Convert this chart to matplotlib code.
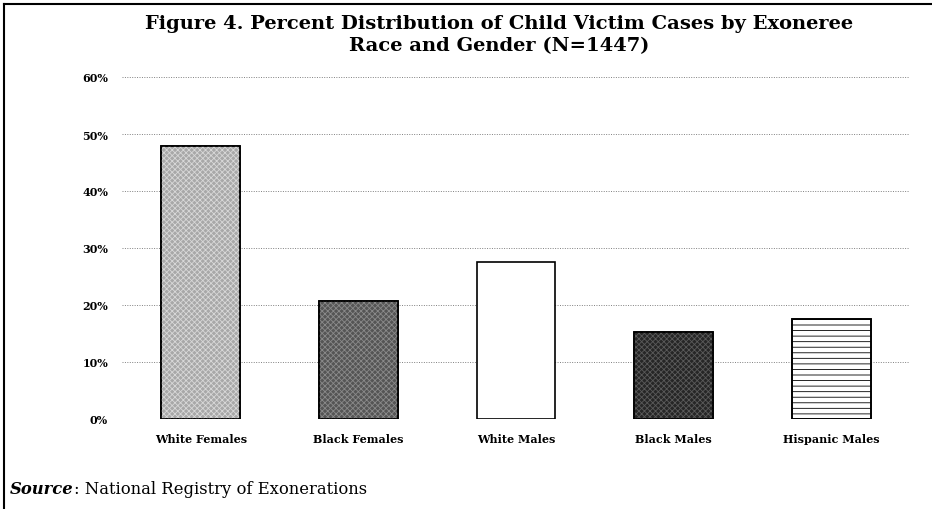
import matplotlib
matplotlib.use("Agg")
import matplotlib.pyplot as plt
from matplotlib.lines import Line2D

plt.rcParams["font.family"] = ["DejaVu Serif", "Liberation Serif"]
plt.rcParams["hatch.linewidth"] = 0.6

# data
groups = ["White Females", "Black Females", "White Males", "Black Males", "Hispanic Males"]
shares = [47.9, 20.7, 27.5, 15.3, 17.5]
yticks = [0, 10, 20, 30, 40, 50, 60]
ytick_labels = ["0%", "10%", "20%", "30%", "40%", "50%", "60%"]

faces = ["#a8a8a8", "#555555", "white", "#262626", "white"]
hatches = ["xxxxxx", "xxxxxx", "", "xxxxxx", "---"]
hatch_cols = ["#d8d8d8", "#8a8a8a", "black", "#5a5a5a", "black"]

fig = plt.figure(figsize=(9.32, 5.10), dpi=100)
ax = fig.add_axes([122 / 932, 1 - 420 / 510, (910 - 122) / 932, (420 - 78) / 510])

x = range(len(groups))
for i in x:
    ax.bar(i, shares[i], width=0.5, color=faces[i], edgecolor="black",
           linewidth=1.2, zorder=3)
    if hatches[i]:
        ax.bar(i, shares[i], width=0.5, color="none", edgecolor=hatch_cols[i],
               hatch=hatches[i], linewidth=0, zorder=3)
        ax.bar(i, shares[i], width=0.5, color="none", edgecolor="black",
               linewidth=1.2, zorder=4)

ax.set_xlim(-0.5, len(groups) - 0.5)
ax.set_ylim(0, 60)
ax.set_yticks(yticks)
ax.set_yticklabels(ytick_labels, fontsize=8, fontweight="bold")
ax.set_xticks(list(x))
ax.set_xticklabels(groups, fontsize=8, fontweight="bold")
ax.tick_params(length=0, pad=10, axis="y")
ax.tick_params(length=0, pad=10, axis="x")
ax.yaxis.grid(True, linestyle=(0, (1, 1.5)), color="#808080", linewidth=0.7, zorder=0)
ax.set_axisbelow(True)
for s in ax.spines.values():
    s.set_visible(False)

fig.text(0.536, 1 - 24 / 510, "Figure 4. Percent Distribution of Child Victim Cases by Exoneree",
         ha="center", va="center", fontsize=14, fontweight="bold")
fig.text(0.536, 1 - 46 / 510, "Race and Gender (N=1447)",
         ha="center", va="center", fontsize=14, fontweight="bold")

src = fig.text(10 / 932, 1 - 490 / 510, "Source", ha="left", va="center",
               fontsize=11.8, fontweight="bold", style="italic")
fig.canvas.draw()
bb = src.get_window_extent()
fig.text(bb.x1 / fig.bbox.width, 1 - 490 / 510, ": National Registry of Exonerations",
         ha="left", va="center", fontsize=11.8)

# page frame (left and top edges)
fig.add_artist(Line2D([4 / 932, 4 / 932], [0, 1 - 5 / 510], color="black", lw=1.5))
fig.add_artist(Line2D([4 / 932, 1], [1 - 5 / 510, 1 - 5 / 510], color="black", lw=1.5))

fig.savefig("out.png", dpi=100)
